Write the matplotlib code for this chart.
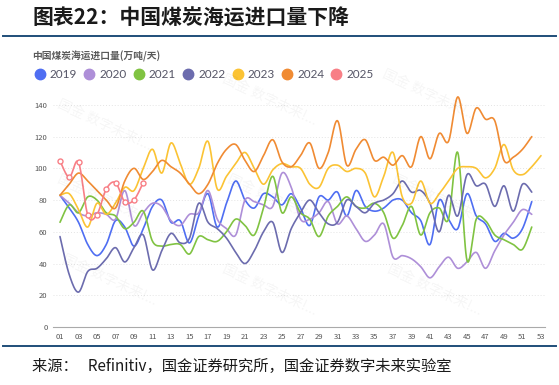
import numpy as np
import matplotlib
matplotlib.use("Agg")
import matplotlib.pyplot as plt
from matplotlib.lines import Line2D

plt.rcParams['font.family'] = ['Noto Sans CJK SC', 'DejaVu Sans']

# ---------------- data ----------------
years = ["2019", "2020", "2021", "2022", "2023", "2024", "2025"]
y2019 = [83, 75, 66, 52, 45, 52, 67, 63, 51, 62, 76, 80, 66, 67, 53, 70, 84, 63, 78, 92,
         80, 75, 84, 82, 77, 84, 75, 64, 82, 80, 85, 70, 86, 76, 73, 75, 80, 80, 72, 67,
         52, 80, 68, 62, 84, 70, 65, 54, 59, 56, 62, 79]
y2020 = [83, 78, 72, 70, 72, 71, 68, 86, 64, 72, 78, 76, 67, 64, 71, 72, 86, 68, 62, 58,
         80, 79, 77, 76, 97, 88, 68, 68, 72, 79, 65, 70, 62, 54, 58, 65, 44, 45, 43, 38,
         31, 38, 44, 37, 41, 47, 37, 48, 58, 66, 74, 71]
y2021 = [66, 77, 72, 82, 80, 72, 70, 62, 66, 73, 54, 51, 52, 52, 46, 57, 55, 54, 60, 68,
         64, 58, 75, 95, 72, 82, 72, 68, 57, 70, 76, 82, 76, 75, 78, 72, 56, 64, 76, 58,
         72, 75, 68, 110, 42, 68, 67, 58, 55, 52, 49, 63]
y2022 = [57, 33, 22, 35, 37, 43, 50, 41, 50, 58, 36, 48, 59, 53, 56, 78, 66, 62, 56, 47,
         40, 48, 60, 66, 47, 62, 72, 80, 72, 65, 66, 80, 76, 72, 78, 80, 84, 92, 85, 86,
         78, 60, 83, 70, 96, 89, 90, 76, 89, 73, 90, 85]
y2023 = [83, 84, 74, 63, 78, 71, 78, 88, 86, 100, 112, 97, 116, 103, 90, 100, 117, 87, 95, 103,
         110, 100, 90, 99, 103, 101, 100, 90, 88, 100, 102, 98, 100, 97, 82, 95, 110, 82, 78, 92,
         78, 84, 92, 100, 101, 100, 94, 100, 115, 99, 96, 101, 108]
y2024 = [83, 90, 97, 92, 86, 80, 75, 92, 100, 93, 98, 105, 101, 97, 90, 84, 90, 103, 112, 115,
         105, 98, 108, 118, 104, 101, 108, 116, 100, 110, 130, 102, 112, 118, 105, 107, 102, 108, 101, 120,
         106, 122, 117, 145, 122, 138, 131, 130, 105, 107, 112, 120]
y2025 = [104.7, 94.4, 103.9, 70.5, 70.9, 86.9, 91, 78.9, 80.1, 91]
series = [y2019, y2020, y2021, y2022, y2023, y2024, y2025]
colors = ["#4f6ef2", "#ae8fd8", "#80c342", "#6c6cae", "#fbc334", "#f08b33", "#f87f86"]
yticks = [0, 20, 40, 60, 80, 100, 120, 140]
xtick_weeks = list(range(1, 54, 2))
xtick_labels = ["%02d" % w for w in xtick_weeks]

title = "图表22：中国煤炭海运进口量下降"
subtitle = "中国煤炭海运进口量(万吨/天)"
source = "来源：   Refinitiv，国金证券研究所，国金证券数字未来实验室"


def catmull(x, y, n=16):
    x = np.asarray(x, float)
    y = np.asarray(y, float)
    px = np.concatenate([[x[0]], x, [x[-1]]])
    py = np.concatenate([[y[0]], y, [y[-1]]])
    t = np.linspace(0, 1, n, endpoint=False)
    xs, ys = [], []
    for i in range(1, len(px) - 2):
        for arr, out in ((px, xs), (py, ys)):
            p0, p1, p2, p3 = arr[i - 1], arr[i], arr[i + 1], arr[i + 2]
            v = 0.5 * ((2 * p1) + (-p0 + p2) * t + (2 * p0 - 5 * p1 + 4 * p2 - p3) * t ** 2
                       + (-p0 + 3 * p1 - 3 * p2 + p3) * t ** 3)
            out.append(v)
    xs = np.concatenate(xs + [[x[-1]]])
    ys = np.concatenate(ys + [[y[-1]]])
    return xs, ys


W, H = 559, 385
fig = plt.figure(figsize=(W / 100, H / 100), dpi=100)
fig.patch.set_facecolor("white")

# header / footer
fig.text(32 / W, 1 - 18 / H, title, fontsize=15, fontweight="bold", style="italic",
         color="#1a1a1a", va="center", ha="left")
fig.add_artist(Line2D([3 / W, 556 / W], [1 - 36 / H, 1 - 36 / H], color="#1f4e79", lw=1.4))
fig.add_artist(Line2D([3 / W, 556 / W], [1 - 346 / H, 1 - 346 / H], color="#1f4e79", lw=1.4))
fig.text(32 / W, 1 - 366 / H, source, fontsize=11, color="#1a1a1a", va="center", ha="left")

fig.text(32 / W, 1 - 56 / H, subtitle, fontsize=7, fontweight="bold", color="#5a5a5a",
         va="center", ha="left")

# legend (manual)
lx0, ldx, ly = 40, 49.4, 74
for i, (yr, c) in enumerate(zip(years, colors)):
    cx = lx0 + i * ldx
    fig.add_artist(Line2D([cx / W], [1 - ly / H], marker="o", markersize=7.5,
                          markerfacecolor=c, markeredgecolor=c, lw=0))
    fig.text((cx + 10) / W, 1 - ly / H, yr, fontsize=8.5, color="#555566",
             va="center", ha="left", family=["Lato", "DejaVu Sans"])

# watermarks
for (wx, wy) in [(105, 125), (270, 100), (430, 95), (110, 280), (270, 290), (435, 290),
                 (105, 200), (275, 200), (440, 200)]:
    fig.text(wx / W, 1 - wy / H, "国金 数字未来!...", fontsize=10, color="#000000",
             alpha=0.04, rotation=-25, ha="center", va="center")

ax = fig.add_axes([53 / W, 1 - 327 / H, (545 - 53) / W, (327 - 89) / H])
ax.set_xlim(1 - 7 / 9.25, 53 + 4 / 9.25)
ax.set_ylim(0, 150)

for yv in yticks[1:]:
    ax.axhline(yv, color="#e4e4e4", lw=0.7, ls=(0, (1, 2)), zorder=0)

for data, c, yr in zip(series, colors, years):
    wk = np.arange(1, len(data) + 1)
    sx, sy = catmull(wk, data)
    ax.plot(sx, sy, color=c, lw=1.2, solid_capstyle="round", zorder=3)
    if yr == "2025":
        ax.plot(wk, data, ls="none", marker="o", markersize=3.6, markerfacecolor="white",
                markeredgecolor=c, markeredgewidth=1.0, zorder=4)

for s in ["top", "right", "left"]:
    ax.spines[s].set_visible(False)
ax.spines["bottom"].set_color("#aaaaaa")
ax.spines["bottom"].set_linewidth(0.8)

ax.set_yticks(yticks)
ax.set_yticklabels([str(v) for v in yticks])
ax.set_xticks(xtick_weeks)
ax.set_xticklabels(xtick_labels)
ax.tick_params(axis="y", length=0, pad=4, labelsize=5.5, labelcolor="#555555")
ax.tick_params(axis="x", length=0, pad=4, labelsize=5.5, labelcolor="#555555")
ax.set_facecolor("none")

fig.savefig("out.png", dpi=100)
